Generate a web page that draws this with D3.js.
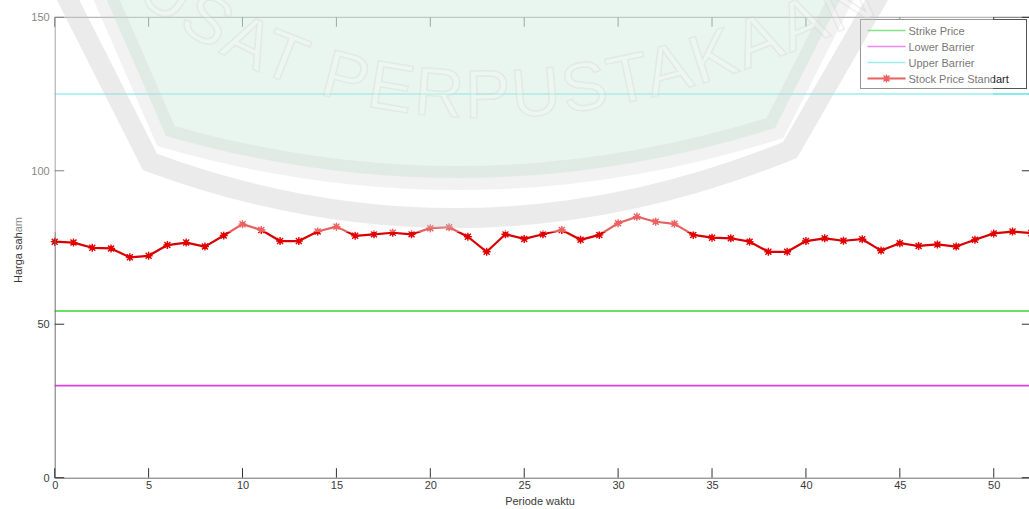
<!DOCTYPE html>
<html>
<head>
<meta charset="utf-8">
<script src="https://cdn.jsdelivr.net/npm/d3@7"></script>
<style>
  html, body { margin: 0; padding: 0; background: #fff; }
  svg { display: block; font-family: "Liberation Sans", Arial, sans-serif; }
</style>
</head>
<body>
<svg id="chart" width="1029" height="509"></svg>
<script>
// Simulated stock price path per period, with the barrier levels
const stockPrice = [76.9, 76.6, 74.9, 74.7, 71.8, 72.3, 75.8, 76.6, 75.3, 78.9,
                    82.6, 80.7, 77.1, 77.1, 80.2, 81.8, 78.8, 79.3, 79.8, 79.3,
                    81.3, 81.6, 78.5, 73.6, 79.3, 77.8, 79.3, 80.7, 77.5, 79.1,
                    82.9, 85.0, 83.4, 82.7, 79.1, 78.2, 78.0, 76.9, 73.6, 73.6,
                    77.1, 78.0, 77.2, 77.7, 74.0, 76.4, 75.5, 76.0, 75.3, 77.5,
                    79.6, 80.2, 79.7];
const strikePrice = 54.3;
const lowerBarrier = 30;
const upperBarrier = 125;
const xTicks = [0, 5, 10, 15, 20, 25, 30, 35, 40, 45, 50];
const yTicks = [0, 50, 100, 150];
const legendLabels = ["Strike Price", "Lower Barrier", "Upper Barrier", "Stock Price Standart"];

const svg = d3.select("#chart");
const plot = { left: 54.7, top: 17.3, right: 1031.3, bottom: 477.7 };

const x = d3.scaleLinear().domain([0, 52]).range([plot.left, plot.right]);
const y = d3.scaleLinear().domain([0, 150]).range([plot.bottom, plot.top]);

const colors = { strike: "#36d236", lower: "#dd3edd", upper: "#5ee4e4", stock: "#d80000" };

const g = svg.append("g");

// horizontal reference levels
const levels = [
  { v: strikePrice, c: colors.strike },
  { v: lowerBarrier, c: colors.lower },
  { v: upperBarrier, c: colors.upper }
];
g.selectAll("line.level").data(levels).join("line")
  .attr("class", "level")
  .attr("x1", x(0)).attr("x2", x(52))
  .attr("y1", d => y(d.v)).attr("y2", d => y(d.v))
  .attr("stroke", d => d.c).attr("stroke-width", 1.6);

// stock price path
const line = d3.line().x((d, i) => x(i)).y(d => y(d));
g.append("path").datum(stockPrice)
  .attr("d", line)
  .attr("fill", "none")
  .attr("stroke", colors.stock)
  .attr("stroke-width", 2.2)
  .attr("stroke-linejoin", "round");

function marker(sel, cx, cy, col) {
  const m = sel.append("g").attr("transform", `translate(${cx},${cy})`);
  m.append("path").attr("d", "M-4,0H4M0,-4V4M-3,-3L3,3M-3,3L3,-3")
    .attr("stroke", col).attr("stroke-width", 1.4);
  m.append("circle").attr("r", 2.4).attr("fill", col);
}
stockPrice.forEach((v, i) => marker(g, x(i), y(v), "#e20000"));

// axes box, MATLAB style with inward ticks
const axisCol = "#6e6e6e";
const xb = d3.axisBottom(x).tickValues(xTicks).tickSize(0).tickPadding(4);
const gx = g.append("g").attr("transform", `translate(0,${plot.bottom})`).call(xb);
gx.select(".domain").attr("stroke", axisCol);
gx.selectAll("text").attr("font-size", 11).attr("fill", "#3a3a3a")
  .attr("font-family", "Liberation Sans, Arial, sans-serif");

const yl = d3.axisLeft(y).tickValues(yTicks).tickSize(0).tickPadding(5);
const gy = g.append("g").attr("transform", `translate(${plot.left},0)`).call(yl);
gy.select(".domain").attr("stroke", axisCol);
gy.selectAll("text").attr("font-size", 11).attr("fill", "#3a3a3a")
  .attr("font-family", "Liberation Sans, Arial, sans-serif");

g.append("line").attr("x1", plot.left).attr("x2", plot.right)
  .attr("y1", plot.top).attr("y2", plot.top).attr("stroke", axisCol);
g.append("line").attr("x1", plot.right).attr("x2", plot.right)
  .attr("y1", plot.top).attr("y2", plot.bottom).attr("stroke", axisCol);

const tickLen = 9.5, tickCol = "#333";
xTicks.forEach(t => {
  g.append("line").attr("x1", x(t)).attr("x2", x(t))
    .attr("y1", plot.bottom).attr("y2", plot.bottom - tickLen).attr("stroke", tickCol);
  g.append("line").attr("x1", x(t)).attr("x2", x(t))
    .attr("y1", plot.top).attr("y2", plot.top + tickLen).attr("stroke", tickCol);
});
yTicks.forEach(t => {
  g.append("line").attr("x1", plot.left).attr("x2", plot.left + tickLen)
    .attr("y1", y(t)).attr("y2", y(t)).attr("stroke", tickCol);
  g.append("line").attr("x1", plot.right).attr("x2", plot.right - tickLen)
    .attr("y1", y(t)).attr("y2", y(t)).attr("stroke", tickCol);
});

// axis titles
g.append("text").attr("x", 540).attr("y", 505).attr("text-anchor", "middle")
  .attr("font-size", 11).attr("fill", "#3a3a3a").text("Periode waktu");
g.append("text").attr("transform", "translate(22,250) rotate(-90)")
  .attr("text-anchor", "middle").attr("font-size", 11).attr("fill", "#3a3a3a")
  .text("Harga saham");

// legend
const lg = g.append("g").attr("transform", "translate(860.5,19.5)");
lg.append("rect").attr("width", 166).attr("height", 69)
  .attr("fill", "#fff").attr("stroke", "#555");
const legendCols = [colors.strike, colors.lower, colors.upper, colors.stock];
legendLabels.forEach((lab, i) => {
  const ly = 11 + i * 16;
  lg.append("line").attr("x1", 7).attr("x2", 45).attr("y1", ly).attr("y2", ly)
    .attr("stroke", legendCols[i]).attr("stroke-width", i === 3 ? 2 : 1.6);
  if (i === 3) marker(lg, 26, ly, "#e20000");
  lg.append("text").attr("x", 48).attr("y", ly + 4).attr("font-size", 11)
    .attr("fill", "#222").text(lab);
});

// library watermark laid over the figure
const wm = svg.append("g").attr("pointer-events", "none");
wm.append("rect").attr("x", 0).attr("y", 0).attr("width", 993).attr("height", 232)
  .attr("fill", "#fff").attr("opacity", 0.38);
const innerD = "M98,-20 L166,136 Q470,224 775,128 L850,-20";
wm.append("path").attr("d", innerD + " Z").attr("fill", "rgb(200,232,215)").attr("opacity", 0.4);
wm.append("path").attr("d", innerD)
  .attr("fill", "none").attr("stroke", "rgb(205,205,205)").attr("stroke-width", 24).attr("opacity", 0.25);
wm.append("path").attr("d", "M58,-20 L150,162 Q470,280 790,150 L888,-20")
  .attr("fill", "none").attr("stroke", "rgb(200,200,200)").attr("stroke-width", 20).attr("opacity", 0.36);
const defs = svg.append("defs");
defs.append("path").attr("id", "wmArc")
  .attr("d", "M90,-40 Q430,270 960,-30");
wm.append("text").attr("font-size", 68).attr("letter-spacing", 3)
  .attr("fill", "#fff").attr("fill-opacity", 0.2)
  .attr("stroke", "rgb(205,205,205)").attr("stroke-opacity", 0.3).attr("stroke-width", 1.5)
  .append("textPath").attr("href", "#wmArc").attr("startOffset", "1%")
  .text("PUSAT PERPUSTAKAAN");
</script>
</body>
</html>
